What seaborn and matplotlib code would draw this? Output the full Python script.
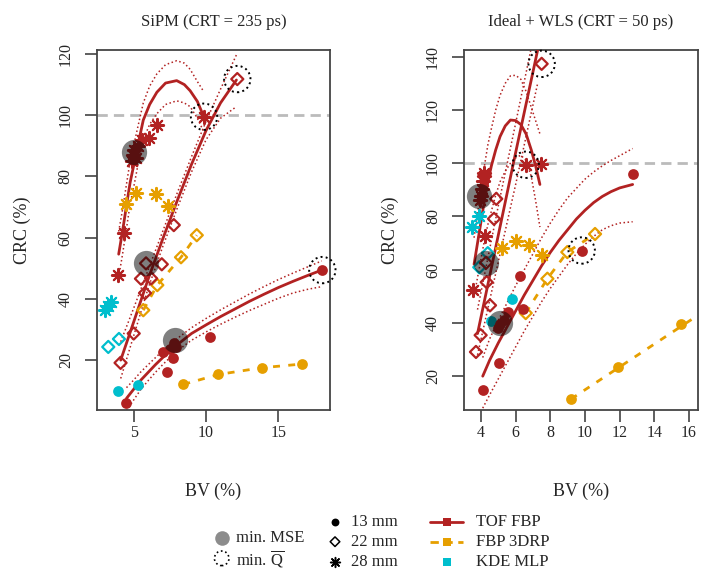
import matplotlib
matplotlib.use("Agg")
import matplotlib.pyplot as plt
import seaborn as sns

# Styling, R-like look
sns.set_style("ticks")
plt.rcParams['font.family'] = ['Liberation Serif', 'DejaVu Serif']
plt.rcParams['mathtext.fontset'] = 'custom'
plt.rcParams['mathtext.rm'] = 'Liberation Serif'

RED = "#B22222"
ORANGE = "#E69F00"
CYAN = "#00BECD"

# ---------------- SiPM panel (CRT = 235 ps) ----------------
sipm_tof13_bv = [4.47, 7.0, 7.28, 7.5, 7.7, 7.81, 7.93, 10.3, 18.04]
sipm_tof13_crc = [6.1, 22.7, 16.2, 23.5, 20.6, 25.5, 24.3, 27.6, 49.4]
sipm_tof22_bv = [4.09, 5.0, 5.78, 5.5, 6.2, 6.94, 5.85, 7.77, 12.16]
sipm_tof22_crc = [19.1, 28.7, 41.9, 46.6, 46.7, 51.3, 51.6, 64.1, 111.8]
sipm_tof28_bv = [3.91, 4.3, 4.85, 4.95, 5.05, 5.15, 5.3, 5.6, 6.08, 6.6, 9.86]
sipm_tof28_crc = [47.8, 61.6, 85.0, 87.0, 88.5, 86.0, 90.0, 91.9, 92.4, 96.7, 99.5]

sipm_fbp13_bv = [8.43, 10.85, 13.85, 16.6]
sipm_fbp13_crc = [12.05, 15.3, 17.5, 18.7]
sipm_fbp22_bv = [5.66, 6.63, 8.27, 9.36]
sipm_fbp22_crc = [36.3, 44.5, 53.6, 60.8]
sipm_fbp28_bv = [4.47, 5.16, 6.54, 7.35]
sipm_fbp28_crc = [71.0, 74.7, 74.2, 70.3]

sipm_kde13_bv = [3.9, 5.28]
sipm_kde13_crc = [9.9, 11.9]
sipm_kde22_bv = [3.24, 3.98]
sipm_kde22_crc = [24.3, 26.9]
sipm_kde28_bv = [3.0, 3.2, 3.45]
sipm_kde28_crc = [36.5, 37.8, 39.0]

sipm_mse_bv = [5.03, 5.85, 7.86]
sipm_mse_crc = [88.0, 51.6, 26.5]
sipm_q_bv = [9.86, 12.16, 18.04]
sipm_q_crc = [99.5, 111.8, 49.4]

# fitted TOF FBP curves with their dotted bands
sipm_fit13_bv = [4.5, 5, 5.5, 6, 6.5, 7, 7.5, 8, 9, 10, 11, 12, 13, 14, 15, 16, 17, 18]
sipm_fit13_crc = [7.5, 10.5, 13.5, 16.0, 18.5, 20.8, 23.0, 25.0, 28.7, 31.5, 34.2,
                  36.7, 39.2, 41.5, 43.7, 45.7, 47.6, 49.4]
sipm_fit13_hi = [11.0, 13.5, 16.2, 18.5, 20.8, 23.0, 25.0, 27.0, 30.6, 33.6, 36.4,
                 39.0, 41.6, 44.0, 46.3, 48.4, 50.4, 52.4]
sipm_fit13_lo = [3.5, 7.0, 10.5, 13.3, 16.0, 18.5, 20.8, 23.0, 26.5, 29.2, 31.7,
                 34.0, 36.2, 38.2, 40.2, 41.9, 43.1, 44.0]
sipm_fit22_bv = [4.1, 5, 6, 7, 8, 9, 10, 11, 12.1]
sipm_fit22_crc = [20.0, 32.5, 46.5, 59.5, 72.0, 84.0, 95.0, 104.0, 111.5]
sipm_fit22_hi = [26.0, 37.0, 49.5, 62.0, 74.5, 86.5, 98.0, 108.5, 119.7]
sipm_fit22_lo = [14.0, 28.0, 43.5, 57.0, 69.5, 81.5, 92.0, 99.0, 102.8]
sipm_fit28_bv = [3.96, 4.24, 4.5, 4.75, 5.04, 5.3, 5.66, 6.1, 6.6, 7.2, 7.97, 8.5,
                 8.9, 9.4, 9.8]
sipm_fit28_crc = [54.6, 62.5, 70.5, 78.0, 84.5, 90.5, 98.4, 103.5, 107.5, 110.5,
                  111.3, 110.0, 108.0, 104.5, 100.0]
sipm_fit28_hi = [62.0, 69.5, 77.5, 85.0, 91.0, 96.5, 104.0, 109.5, 113.5, 116.5,
                 117.8, 117.0, 115.0, 111.0, 108.0]
sipm_fit28_lo = [47.0, 55.0, 63.0, 71.0, 77.5, 84.0, 92.0, 97.0, 100.5, 103.5,
                 104.7, 104.0, 102.8, 99.0, 95.0]

# ---------------- Ideal + WLS panel (CRT = 50 ps) ----------------
wls_tof13_bv = [4.13, 5.06, 5.0, 5.1, 5.3, 5.58, 6.25, 6.44, 9.81, 12.75]
wls_tof13_crc = [14.8, 25.1, 38.0, 39.7, 41.0, 44.1, 57.5, 45.4, 67.2, 96.1]
wls_tof22_bv = [3.71, 3.98, 4.52, 4.33, 4.29, 4.75, 4.88, 7.5]
wls_tof22_crc = [29.1, 35.4, 46.6, 55.3, 62.6, 79.1, 86.6, 137.3]
wls_tof28_bv = [3.56, 4.23, 3.94, 4.0, 4.06, 4.12, 4.17, 4.2, 6.58, 7.44]
wls_tof28_crc = [52.2, 72.8, 86.0, 87.8, 90.4, 93.4, 96.4, 95.0, 99.4, 99.7]

wls_fbp13_bv = [9.19, 11.89, 15.52]
wls_fbp13_crc = [11.4, 23.3, 39.7]
wls_fbp13_line_bv = [9.19, 16.5]
wls_fbp13_line_crc = [11.4, 42.8]
wls_fbp22_bv = [6.58, 7.83, 8.98, 10.58]
wls_fbp22_crc = [43.7, 56.6, 66.6, 73.4]
wls_fbp28_bv = [5.19, 6.04, 6.79, 7.54]
wls_fbp28_crc = [68.0, 70.7, 69.3, 65.6]

wls_kde13_bv = [4.56, 5.81]
wls_kde13_crc = [40.7, 48.8]
wls_kde22_bv = [3.9, 4.39]
wls_kde22_crc = [60.9, 66.2]
wls_kde28_bv = [3.5, 3.88]
wls_kde28_crc = [75.9, 80.3]

wls_mse_bv = [3.88, 4.29, 5.08]
wls_mse_crc = [87.8, 62.6, 40.0]
wls_q_bv = [6.58, 7.5, 9.81]
wls_q_crc = [99.4, 137.3, 67.2]

wls_fit13_bv = [4.1, 4.5, 5, 5.5, 6, 6.5, 7, 7.5, 8, 8.5, 9, 9.5, 10, 10.5, 11, 11.5,
                12, 12.75]
wls_fit13_crc = [20.0, 26.0, 32.5, 38.5, 44.5, 50.5, 56.0, 61.5, 66.5, 71.0, 75.0,
                 79.0, 82.3, 85.2, 87.5, 89.3, 90.7, 92.0]
wls_fit13_hi = [27.0, 34.0, 41.0, 47.5, 54.0, 60.0, 66.0, 72.0, 77.5, 82.5, 87.0,
                90.5, 94.0, 96.7, 99.0, 101.0, 102.8, 105.5]
wls_fit13_lo = [8.0, 13.0, 19.0, 25.0, 31.0, 37.0, 42.5, 48.0, 53.0, 57.5, 62.0,
                66.0, 69.5, 72.5, 75.0, 76.5, 77.5, 78.0]
wls_fit22_bv = [3.8, 5.0, 6.0, 7.27]
wls_fit22_crc = [36.0, 73.0, 104.0, 142.5]
wls_fit22_hi = [45.0, 84.0, 115.0, 155.0]
wls_fit22_lo = [28.0, 63.0, 92.0, 130.0]
wls_fit28_bv = [3.6, 3.8, 4.0, 4.2, 4.4, 4.6, 4.85, 5.1, 5.4, 5.7, 6.0, 6.3, 6.6,
                6.9, 7.15, 7.4]
wls_fit28_crc = [62.0, 70.0, 78.0, 86.0, 93.0, 99.0, 105.0, 110.0, 114.0, 116.2,
                 116.0, 114.5, 111.0, 105.0, 99.0, 92.0]
wls_fit28_hi = [72.0, 81.0, 90.0, 99.0, 107.0, 113.0, 120.0, 125.5, 130.0, 132.8,
                133.0, 131.5, 127.0, 121.0, 116.0, 111.0]
wls_fit28_lo = [50.0, 57.0, 64.0, 71.0, 77.0, 82.0, 88.0, 93.0, 97.0, 100.0,
                102.0, 103.0, 101.0, 95.0, 86.0, 76.0]

STAR = (8, 2, 0)


def draw_panel(ax, d, xlim, ylim, xticks, yticks, title):
    ax.axhline(100, color="#BBBBBB", lw=2.0, dashes=(3.7, 2.2), zorder=1)

    # fitted curves with dotted bands
    for bv, crc, hi, lo in d["fits"]:
        for band in (hi, lo):
            sns.lineplot(x=bv, y=band, ax=ax, color=RED, lw=1.1, ls=":",
                         sort=False, estimator=None, zorder=2)
        sns.lineplot(x=bv, y=crc, ax=ax, color=RED, lw=2.0,
                     sort=False, estimator=None, zorder=3)

    # FBP 3DRP dashed connectors
    for bv, crc in d["fbp_lines"]:
        sns.lineplot(x=bv, y=crc, ax=ax, color=ORANGE, lw=2.0,
                     dashes=(2.5, 3), sort=False, estimator=None, zorder=3)

    for color, groups in ((ORANGE, d["fbp"]), (CYAN, d["kde"]), (RED, d["tof"])):
        (b13, c13), (b22, c22), (b28, c28) = groups
        sns.scatterplot(x=b13, y=c13, ax=ax, marker="o", s=60, color=color,
                        edgecolor=color, linewidth=0, zorder=4)
        sns.scatterplot(x=b22, y=c22, ax=ax, marker="D", s=38, color=color,
                        facecolor="none", edgecolor=color, linewidth=1.6, zorder=4)
        sns.scatterplot(x=b28, y=c28, ax=ax, marker=STAR, s=90, color=color,
                        linewidth=1.5, zorder=4)

    sns.scatterplot(x=d["mse"][0], y=d["mse"][1], ax=ax, marker="o", s=330,
                    color="black", alpha=0.5, linewidth=0, zorder=5)
    sns.scatterplot(x=d["q"][0], y=d["q"][1], ax=ax, marker="o", s=360,
                    color="black", facecolor="none", edgecolor="black",
                    linewidth=1.4, linestyle=":", zorder=5, clip_on=False)

    ax.set_xlim(*xlim)
    ax.set_ylim(*ylim)
    ax.set_xticks(xticks)
    ax.set_yticks(yticks)
    ax.tick_params(axis="both", direction="out", length=8.5, width=1.1,
                   labelsize=11.5, color="#333333")
    ax.tick_params(axis="x", pad=2)
    ax.tick_params(axis="y", labelrotation=90, pad=8)
    for lab in ax.get_yticklabels():
        lab.set_va("center")
    for sp in ax.spines.values():
        sp.set_visible(True)
        sp.set_color("#444444")
        sp.set_linewidth(1.3)
    ax.set_title(title, fontsize=12, pad=17)
    ax.set_xlabel("BV (%)", fontsize=13, labelpad=30)
    ax.set_ylabel("CRC (%)", fontsize=13, labelpad=19)


fig = plt.figure(figsize=(7.05, 5.73), dpi=100)
ax1 = fig.add_axes([96.7 / 705, 163 / 573, 233.3 / 705, 360 / 573])
ax2 = fig.add_axes([464 / 705, 163 / 573, 234 / 705, 360 / 573])

sipm = {
    "fits": [(sipm_fit13_bv, sipm_fit13_crc, sipm_fit13_hi, sipm_fit13_lo),
             (sipm_fit22_bv, sipm_fit22_crc, sipm_fit22_hi, sipm_fit22_lo),
             (sipm_fit28_bv, sipm_fit28_crc, sipm_fit28_hi, sipm_fit28_lo)],
    "fbp_lines": [(sipm_fbp13_bv, sipm_fbp13_crc), (sipm_fbp22_bv, sipm_fbp22_crc)],
    "tof": [(sipm_tof13_bv, sipm_tof13_crc), (sipm_tof22_bv, sipm_tof22_crc),
            (sipm_tof28_bv, sipm_tof28_crc)],
    "fbp": [(sipm_fbp13_bv, sipm_fbp13_crc), (sipm_fbp22_bv, sipm_fbp22_crc),
            (sipm_fbp28_bv, sipm_fbp28_crc)],
    "kde": [(sipm_kde13_bv, sipm_kde13_crc), (sipm_kde22_bv, sipm_kde22_crc),
            (sipm_kde28_bv, sipm_kde28_crc)],
    "mse": (sipm_mse_bv, sipm_mse_crc),
    "q": (sipm_q_bv, sipm_q_crc),
}
wls = {
    "fits": [(wls_fit13_bv, wls_fit13_crc, wls_fit13_hi, wls_fit13_lo),
             (wls_fit22_bv, wls_fit22_crc, wls_fit22_hi, wls_fit22_lo),
             (wls_fit28_bv, wls_fit28_crc, wls_fit28_hi, wls_fit28_lo)],
    "fbp_lines": [(wls_fbp13_line_bv, wls_fbp13_line_crc), (wls_fbp22_bv, wls_fbp22_crc)],
    "tof": [(wls_tof13_bv, wls_tof13_crc), (wls_tof22_bv, wls_tof22_crc),
            (wls_tof28_bv, wls_tof28_crc)],
    "fbp": [(wls_fbp13_bv, wls_fbp13_crc), (wls_fbp22_bv, wls_fbp22_crc),
            (wls_fbp28_bv, wls_fbp28_crc)],
    "kde": [(wls_kde13_bv, wls_kde13_crc), (wls_kde22_bv, wls_kde22_crc),
            (wls_kde28_bv, wls_kde28_crc)],
    "mse": (wls_mse_bv, wls_mse_crc),
    "q": (wls_q_bv, wls_q_crc),
}

draw_panel(ax1, sipm, (2.44, 18.57), (3.7, 121.3), [5, 10, 15],
           [20, 40, 60, 80, 100, 120], "SiPM (CRT = 235 ps)")
draw_panel(ax2, wls, (3.02, 16.52), (7.3, 142.5), [4, 6, 8, 10, 12, 14, 16],
           [20, 40, 60, 80, 100, 120, 140], "Ideal + WLS (CRT = 50 ps)")

# ---------------- legend (overlay axes in pixel units) ----------------
lax = fig.add_axes([0, 0, 1, 1], zorder=10)
lax.set_xlim(0, 705)
lax.set_ylim(573, 0)
lax.axis("off")
fs = 12
lax.scatter([221.7], [538.3], s=110, color="black", alpha=0.45, linewidth=0)
lax.scatter([221.7], [558.3], s=110, facecolor="none", edgecolor="black",
            linewidth=1.2, linestyle=":")
lax.text(236, 538.3, "min. MSE", fontsize=fs, va="center")
lax.text(236, 558.3, r"min. $\overline{\mathrm{Q}}$", fontsize=fs, va="center")

lax.scatter([335], [521.7], s=32, color="black", linewidth=0)
lax.scatter([335], [541.7], s=24, marker="D", facecolor="none",
            edgecolor="black", linewidth=1.1)
lax.scatter([335], [561.7], s=50, marker=STAR, color="black", linewidth=1.1)
for yy, lab in ((521.7, "13 mm"), (541.7, "22 mm"), (561.7, "28 mm")):
    lax.text(351, yy, lab, fontsize=fs, va="center")

lax.plot([430, 463], [521.7, 521.7], color=RED, lw=2)
lax.scatter([446.7], [521.7], marker="s", s=32, color=RED, linewidth=0)
lax.plot([430, 463], [541.7, 541.7], color=ORANGE, lw=2, dashes=(3, 2))
lax.scatter([446.7], [541.7], marker="s", s=32, color=ORANGE, linewidth=0)
lax.scatter([446.7], [561.7], marker="s", s=32, color=CYAN, linewidth=0)
for yy, lab in ((521.7, "TOF FBP"), (541.7, "FBP 3DRP"), (561.7, "KDE MLP")):
    lax.text(476.5, yy, lab, fontsize=fs, va="center")

fig.savefig("out.png", dpi=100)
